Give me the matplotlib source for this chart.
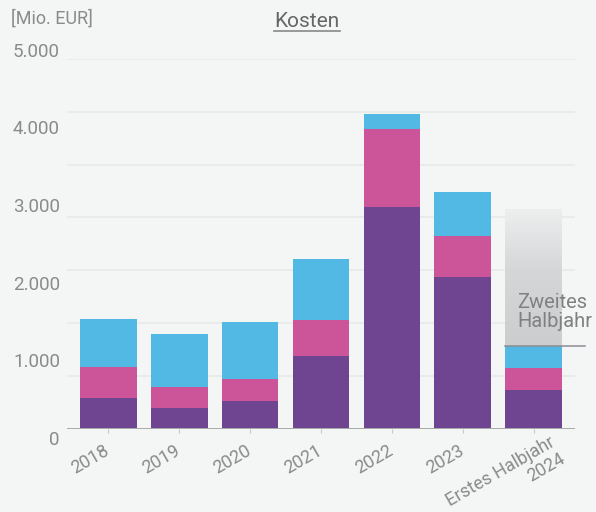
import numpy as np
import matplotlib.pyplot as plt
from matplotlib.colors import LinearSegmentedColormap
from matplotlib.lines import Line2D
from matplotlib.transforms import ScaledTranslation

plt.rcParams['font.family'] = ['Roboto', 'DejaVu Sans']

# Daten (Mio. EUR)
jahre = ['2018', '2019', '2020', '2021', '2022', '2023', 'Erstes Halbjahr\n2024']
lila = [419, 284, 378, 985, 2997, 2052, 527]
pink = [419, 284, 297, 486, 1053, 554, 297]
blau = [648, 711, 765, 819, 203, 590, 297]
zweites_halbjahr = 1837
y_beschriftung = ['0', '1.000', '2.000', '3.000', '4.000', '5.000']

farbe_lila = '#6F4491'
farbe_pink = '#CC5499'
farbe_blau = '#52B8E4'
hintergrund = '#F4F6F6'
grau_text = '#8A8A8A'

fig = plt.figure(figsize=(5.96, 5.12), dpi=100, facecolor=hintergrund)
ax = fig.add_axes([67/596, 83/512, 508/596, 370.3/512])
ax.set_facecolor(hintergrund)

x = np.arange(len(jahre))
breite = 0.8

# Gitterlinien (7 Abschnitte) und Grundlinie
for v in np.linspace(0, 5000, 8)[1:]:
    ax.axhline(v, color='#E7E9E9', lw=1.2, zorder=0)
ax.axhline(0, color='#A9A9A9', lw=1.4, zorder=3)

lila_arr = np.array(lila)
pink_arr = np.array(pink)
blau_arr = np.array(blau)
ax.bar(x, lila_arr, width=breite, color=farbe_lila, zorder=2)
ax.bar(x, pink_arr, width=breite, bottom=lila_arr, color=farbe_pink, zorder=2)
ax.bar(x, blau_arr, width=breite, bottom=lila_arr + pink_arr, color=farbe_blau, zorder=2)

# Zweites Halbjahr als grauer Verlauf
summe_h1 = lila_arr[-1] + pink_arr[-1] + blau_arr[-1]
cmap = LinearSegmentedColormap.from_list('verlauf', [(0, '#CCCDCF'), (0.55, '#D5D6D8'), (1, '#EDEEEE')])
verlauf = np.linspace(0, 1, 256).reshape(-1, 1)
ax.imshow(verlauf, extent=(x[-1] - breite/2, x[-1] + breite/2, summe_h1, summe_h1 + zweites_halbjahr),
          origin='lower', aspect='auto', cmap=cmap, zorder=2)
ax.plot([x[-1] - breite/2, x[-1] + 0.725], [summe_h1, summe_h1], color='#8C8C94', lw=1.1,
        clip_on=False, zorder=4)
ax.text(x[-1] - 0.228, summe_h1, 'Zweites\nHalbjahr', ha='left', va='baseline', fontsize=14.5,
        color='#808080', linespacing=1.0,
        transform=ax.transData + ScaledTranslation(0, 0.19, fig.dpi_scale_trans), zorder=5)

ax.set_xlim(-0.585, 6.585)
ax.set_ylim(0, 5000)
for s in ax.spines.values():
    s.set_visible(False)
ax.set_yticks([])
ax.set_xticks(x, [])
ax.tick_params(axis='x', length=3, color='#C8C8C8', width=0.8)

# x-Beschriftungen, gedreht
for i, jahr in enumerate(jahre):
    dx = 0.25 if '\n' in jahr else -0.005
    ax.text(x[i], 0, jahr, ha='right', va='center', rotation=30, rotation_mode='anchor',
            fontsize=13, color=grau_text, multialignment='right', linespacing=1.05,
            transform=ax.get_xaxis_transform() + ScaledTranslation(dx, -0.20, fig.dpi_scale_trans))

# y-Beschriftungen (im Original nicht auf den Gitterlinien)
for i, lab in enumerate(y_beschriftung):
    fig.text(60/596, 1 - (445 - i*77.66)/512, lab, ha='right', va='baseline',
             fontsize=13.5, color=grau_text)

fig.text(11/596, 1 - 24/512, '[Mio. EUR]', ha='left', va='baseline', fontsize=13, color=grau_text)
titel = fig.text(307/596, 1 - 27/512, 'Kosten', ha='center', va='baseline', fontsize=15, color='#666666')

fig.canvas.draw()
bb = titel.get_window_extent().transformed(fig.transFigure.inverted())
fig.add_artist(Line2D([bb.x0, bb.x1], [1 - 31/512, 1 - 31/512], transform=fig.transFigure,
                      color='#888888', lw=1.2))

fig.savefig('out.png', dpi=100, facecolor=hintergrund)
